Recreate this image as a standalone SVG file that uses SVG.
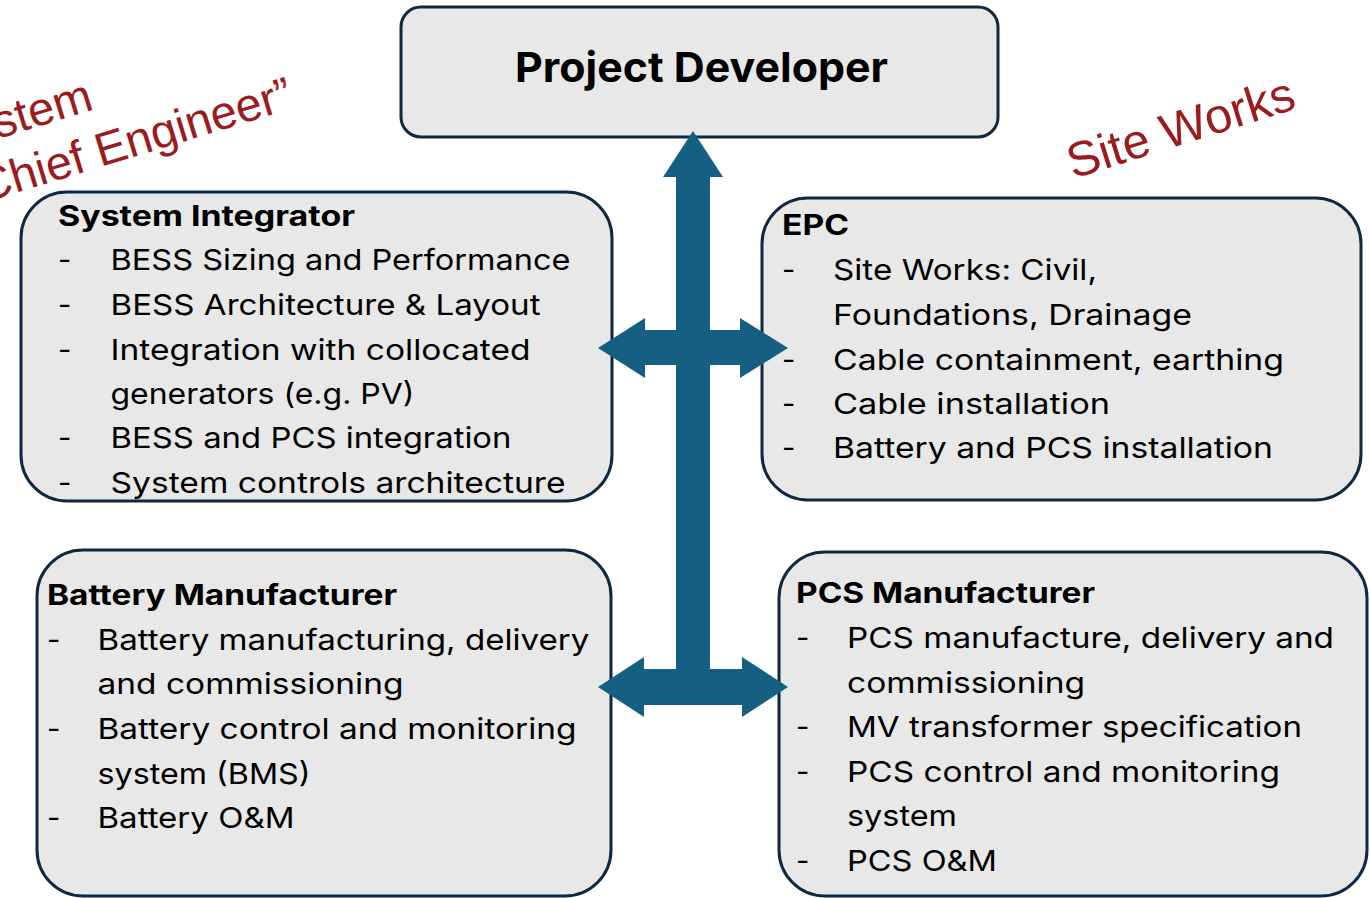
<svg xmlns="http://www.w3.org/2000/svg" width="1370" height="898" viewBox="0 0 1370 898">
<style>
.box{fill:#e8e8e8;stroke:#0e2841;stroke-width:3}
.t{font-family:Inter,"Liberation Sans",sans-serif;font-size:29px;fill:#000}
.b{font-weight:700;font-size:28px}
.red{font-family:"Liberation Sans",Arial,sans-serif;font-size:47px;fill:#9a1c1f}
.arrow{fill:#156082}
</style>
<rect width="1370" height="898" fill="#ffffff"/>
<g id="label-chief-engineer" transform="translate(-17,203) rotate(-17)">
<text class="red" x="-22" y="-57">System</text>
<text class="red" x="0" y="0">Chief Engineer”</text>
</g>
<g id="label-site-works" transform="translate(1073,179) rotate(-17.5)">
<text class="red" x="0" y="0" style="font-size:49px">Site Works</text>
</g>
<g id="node-project-developer">
<rect class="box" x="401" y="7" width="597" height="130" rx="20"/>
<text class="t b" x="515" y="82" style="font-size:41px" textLength="373" lengthAdjust="spacingAndGlyphs">Project Developer</text>
</g>
<g id="node-system-integrator">
<rect class="box" x="21" y="192" width="591" height="309" rx="46"/>
<text class="t b" x="58" y="226" textLength="297" lengthAdjust="spacingAndGlyphs">System Integrator</text>
<text class="t" x="58" y="270">-</text>
<text class="t" x="110.5" y="270" textLength="460" lengthAdjust="spacingAndGlyphs">BESS Sizing and Performance</text>
<text class="t" x="58" y="315">-</text>
<text class="t" x="110.5" y="315" textLength="430" lengthAdjust="spacingAndGlyphs">BESS Architecture &amp; Layout</text>
<text class="t" x="58" y="360">-</text>
<text class="t" x="110.5" y="360" textLength="420" lengthAdjust="spacingAndGlyphs">Integration with collocated</text>
<text class="t" x="110.5" y="404" textLength="304" lengthAdjust="spacingAndGlyphs">generators (e.g. PV)</text>
<text class="t" x="58" y="448">-</text>
<text class="t" x="110.5" y="448" textLength="401" lengthAdjust="spacingAndGlyphs">BESS and PCS integration</text>
<text class="t" x="58" y="493">-</text>
<text class="t" x="110.5" y="493" textLength="455" lengthAdjust="spacingAndGlyphs">System controls architecture</text>
</g>
<g id="node-epc">
<rect class="box" x="762" y="198" width="599" height="302" rx="46"/>
<text class="t b" x="782" y="235" textLength="67" lengthAdjust="spacingAndGlyphs">EPC</text>
<text class="t" x="782" y="280">-</text>
<text class="t" x="833" y="280" textLength="264" lengthAdjust="spacingAndGlyphs">Site Works: Civil,</text>
<text class="t" x="833" y="325" textLength="359" lengthAdjust="spacingAndGlyphs">Foundations, Drainage</text>
<text class="t" x="782" y="370">-</text>
<text class="t" x="833" y="370" textLength="451" lengthAdjust="spacingAndGlyphs">Cable containment, earthing</text>
<text class="t" x="782" y="414">-</text>
<text class="t" x="833" y="414" textLength="277" lengthAdjust="spacingAndGlyphs">Cable installation</text>
<text class="t" x="782" y="458">-</text>
<text class="t" x="833" y="458" textLength="440" lengthAdjust="spacingAndGlyphs">Battery and PCS installation</text>
</g>
<g id="node-battery-manufacturer">
<rect class="box" x="37" y="550" width="574" height="346" rx="46"/>
<text class="t b" x="47" y="605" textLength="350" lengthAdjust="spacingAndGlyphs">Battery Manufacturer</text>
<text class="t" x="47" y="650">-</text>
<text class="t" x="97.5" y="650" textLength="492" lengthAdjust="spacingAndGlyphs">Battery manufacturing, delivery</text>
<text class="t" x="97.5" y="694" textLength="306" lengthAdjust="spacingAndGlyphs">and commissioning</text>
<text class="t" x="47" y="739">-</text>
<text class="t" x="97.5" y="739" textLength="479" lengthAdjust="spacingAndGlyphs">Battery control and monitoring</text>
<text class="t" x="97.5" y="784" textLength="213" lengthAdjust="spacingAndGlyphs">system (BMS)</text>
<text class="t" x="47" y="828">-</text>
<text class="t" x="97.5" y="828" textLength="197" lengthAdjust="spacingAndGlyphs">Battery O&amp;M</text>
</g>
<g id="node-pcs-manufacturer">
<rect class="box" x="779" y="552" width="588" height="344" rx="46"/>
<text class="t b" x="796" y="603" textLength="299" lengthAdjust="spacingAndGlyphs">PCS Manufacturer</text>
<text class="t" x="796" y="648">-</text>
<text class="t" x="847" y="648" textLength="487" lengthAdjust="spacingAndGlyphs">PCS manufacture, delivery and</text>
<text class="t" x="847" y="693" textLength="238" lengthAdjust="spacingAndGlyphs">commissioning</text>
<text class="t" x="796" y="737">-</text>
<text class="t" x="847" y="737" textLength="455" lengthAdjust="spacingAndGlyphs">MV transformer specification</text>
<text class="t" x="796" y="782">-</text>
<text class="t" x="847" y="782" textLength="433" lengthAdjust="spacingAndGlyphs">PCS control and monitoring</text>
<text class="t" x="847" y="826" textLength="110" lengthAdjust="spacingAndGlyphs">system</text>
<text class="t" x="796" y="871">-</text>
<text class="t" x="847" y="871" textLength="150" lengthAdjust="spacingAndGlyphs">PCS O&amp;M</text>
</g>
<g id="connectors">
<path class="arrow" d="M693,131 L723,177 L710,177 L710,330 L740,330 L740,318 L788,348 L740,378 L740,365 L710,365 L710,669 L742,669 L742,657 L788,687 L742,717 L742,705 L644,705 L644,717 L598,687 L644,657 L644,669 L676,669 L676,365 L645,365 L645,378 L598,348 L645,318 L645,330 L676,330 L676,177 L663,177 Z"/>
</g>
</svg>
